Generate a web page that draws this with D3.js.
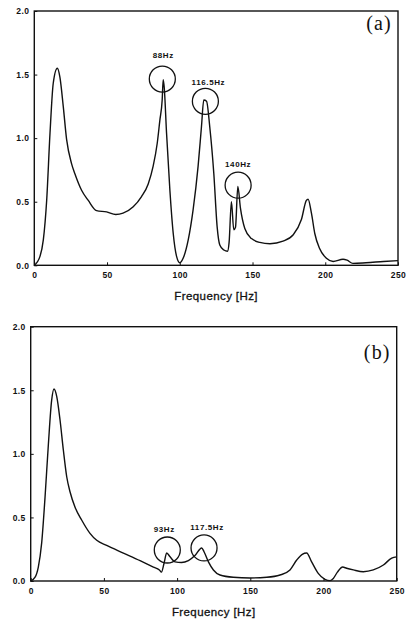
<!DOCTYPE html>
<html>
<head>
<meta charset="utf-8">
<script src="https://cdn.jsdelivr.net/npm/d3@7/dist/d3.min.js"></script>
<style>
  html, body { margin: 0; padding: 0; background: #fff; }
  svg { display: block; }
</style>
</head>
<body>
<div id="chart"></div>
<script>
// ── Data ──
const freqA = [0, 3.9, 6.2, 8.5, 10.8, 13, 15.8, 17.6, 19.9, 22.2, 25.6, 27.9, 32.5, 37.1, 42.8, 49.7, 56, 61, 68, 73.7, 78.3, 81.7, 84.5, 86.3, 87.9, 88.6, 89.3, 90.9, 93.2, 95.5, 97.8, 100, 102.3, 105.8, 109.2, 112.6, 114.9, 116.5, 118.4, 120.6, 123.4, 125.7, 127.5, 130.3, 132.8, 133.9, 135.5, 137.1, 138.3, 139.9, 141.7, 144.7, 149.3, 155, 162, 171, 178, 183.6, 187, 188.2, 190.5, 192.8, 196.2, 200.8, 205.4, 212.2, 215, 219, 228, 240, 250];
const ampA = [0, 0.07, 0.2, 0.51, 1.04, 1.43, 1.55, 1.48, 1.25, 0.99, 0.8, 0.72, 0.59, 0.51, 0.43, 0.42, 0.4, 0.41, 0.46, 0.54, 0.64, 0.78, 0.96, 1.14, 1.3, 1.46, 1.4, 1.04, 0.59, 0.25, 0.07, 0.02, 0.055, 0.2, 0.44, 0.78, 1.09, 1.3, 1.29, 1.09, 0.72, 0.3, 0.16, 0.12, 0.11, 0.18, 0.5, 0.28, 0.3, 0.62, 0.45, 0.29, 0.21, 0.18, 0.17, 0.19, 0.24, 0.36, 0.51, 0.52, 0.41, 0.25, 0.13, 0.055, 0.03, 0.047, 0.04, 0.015, 0.02, 0.03, 0.037];

const freqB = [0, 3, 5.2, 7.5, 9.8, 12.1, 14.3, 15.9, 17.8, 20, 22.3, 24.6, 26.9, 30.3, 34.8, 40.5, 45.1, 51.9, 63.3, 74.7, 83.8, 87.9, 89.3, 91.1, 92.9, 95.2, 98.6, 103, 107.7, 112.2, 116.8, 118.4, 121.4, 124.8, 129.3, 138.4, 149.8, 161.2, 170.3, 177.1, 181.7, 185.5, 188.5, 191.9, 196.4, 201, 204.5, 206.7, 209.5, 213.1, 215.8, 220.4, 227.2, 234, 240.9, 246.6, 250];
const ampB = [0, 0.03, 0.11, 0.3, 0.66, 1.08, 1.42, 1.51, 1.45, 1.27, 1.03, 0.82, 0.7, 0.58, 0.48, 0.375, 0.32, 0.28, 0.22, 0.16, 0.11, 0.087, 0.07, 0.14, 0.22, 0.19, 0.15, 0.145, 0.16, 0.2, 0.26, 0.23, 0.15, 0.087, 0.047, 0.029, 0.024, 0.029, 0.047, 0.087, 0.165, 0.21, 0.22, 0.15, 0.06, 0.013, 0.003, 0.02, 0.07, 0.11, 0.1, 0.087, 0.073, 0.087, 0.126, 0.18, 0.19];

const xTicks = [0, 50, 100, 150, 200, 250];
const yTicks = [0, 0.5, 1.0, 1.5, 2.0];

// annotated peaks: label, circle centre (freq, amp)
const markLabelsA = ['88Hz', '116.5Hz', '140Hz'];
const markFreqA = [88, 117.6, 140.1];
const markAmpA = [1.465, 1.29, 0.63];

const markLabelsB = ['93Hz', '117.5Hz'];
const markFreqB = [93.3, 118.4];
const markAmpB = [0.244, 0.26];

// ── Layout ──
const W = 409, H = 623;
const svg = d3.select('#chart').append('svg')
  .attr('width', W).attr('height', H)
  .attr('viewBox', `0 0 ${W} ${H}`);

const sans = "'Liberation Sans', Arial, sans-serif";

function styleTicks(s) {
  s.select('.domain').remove();
  s.selectAll('.tick line').attr('stroke', '#111');
  s.selectAll('.tick text')
    .attr('fill', '#111')
    .attr('font-family', sans)
    .attr('font-weight', 'bold')
    .attr('font-size', '8.5px')
    .attr('letter-spacing', '0.4px');
}

function drawPanel(cfg) {
  const w = cfg.right - cfg.left;
  const h = cfg.bottom - cfg.top;
  const g = svg.append('g').attr('transform', `translate(${cfg.left}, ${cfg.top})`);

  const x = d3.scaleLinear().domain([0, 250]).range([0, w]);
  const y = d3.scaleLinear().domain([0, 2]).range([h, 0]);

  // frame
  g.append('rect')
    .attr('x', 0).attr('y', 0).attr('width', w).attr('height', h)
    .attr('fill', 'none').attr('stroke', '#111').attr('stroke-width', 1.4);

  // x axis (inward ticks)
  g.append('g')
    .attr('transform', `translate(0, ${h})`)
    .call(d3.axisBottom(x).tickValues(xTicks).tickSize(-3).tickPadding(7).tickFormat(d3.format('d')))
    .call(styleTicks);

  // y axis
  g.append('g')
    .call(d3.axisLeft(y).tickValues(yTicks).tickSize(-3).tickPadding(5).tickFormat(d3.format('.1f')))
    .call(styleTicks);

  // spectrum line
  const pts = cfg.freq.map((f, i) => [f, cfg.amp[i]]);
  const line = d3.line()
    .x(d => x(d[0]))
    .y(d => y(d[1]))
    .curve(d3.curveMonotoneX);

  g.append('path')
    .datum(pts)
    .attr('d', line)
    .attr('fill', 'none')
    .attr('stroke', '#111')
    .attr('stroke-width', 1.4)
    .attr('stroke-linejoin', 'round');

  // circled peaks + labels
  cfg.markLabels.forEach((lab, i) => {
    const cx = x(cfg.markFreq[i]);
    const cy = y(cfg.markAmp[i]);
    g.append('circle')
      .attr('cx', cx).attr('cy', cy).attr('r', 13)
      .attr('fill', 'none').attr('stroke', '#111').attr('stroke-width', 1.3);
    g.append('text')
      .attr('x', cx + cfg.labelDx[i])
      .attr('y', cy - cfg.labelDy[i])
      .attr('text-anchor', 'middle')
      .attr('font-family', sans)
      .attr('font-weight', 'bold')
      .attr('font-size', '8px')
      .attr('letter-spacing', '0.6px')
      .attr('fill', '#111')
      .text(lab);
  });

  // panel tag
  g.append('text')
    .attr('x', w - 6)
    .attr('y', cfg.tagY)
    .attr('text-anchor', 'end')
    .attr('font-family', "'Liberation Serif', 'Times New Roman', serif")
    .attr('font-size', '20px')
    .attr('letter-spacing', '1.2px')
    .attr('fill', '#111')
    .text(cfg.tag);

  // axis title
  g.append('text')
    .attr('x', w / 2)
    .attr('y', h + 35)
    .attr('text-anchor', 'middle')
    .attr('font-family', sans)
    .attr('font-size', '11.5px')
    .attr('letter-spacing', '0.4px')
    .attr('fill', '#111')
    .attr('stroke', '#111')
    .attr('stroke-width', 0.3)
    .text('Frequency [Hz]');
}

drawPanel({
  left: 34.3, right: 398, top: 11, bottom: 265.3,
  freq: freqA, amp: ampA,
  markLabels: markLabelsA, markFreq: markFreqA, markAmp: markAmpA,
  labelDx: [1, 3, 0], labelDy: [21, 16, 18],
  tag: '(a)', tagY: 19
});

drawPanel({
  left: 30.7, right: 396.7, top: 326.7, bottom: 581,
  freq: freqB, amp: ampB,
  markLabels: markLabelsB, markFreq: markFreqB, markAmp: markAmpB,
  labelDx: [-3, 3], labelDy: [18, 18],
  tag: '(b)', tagY: 32
});
</script>
</body>
</html>
